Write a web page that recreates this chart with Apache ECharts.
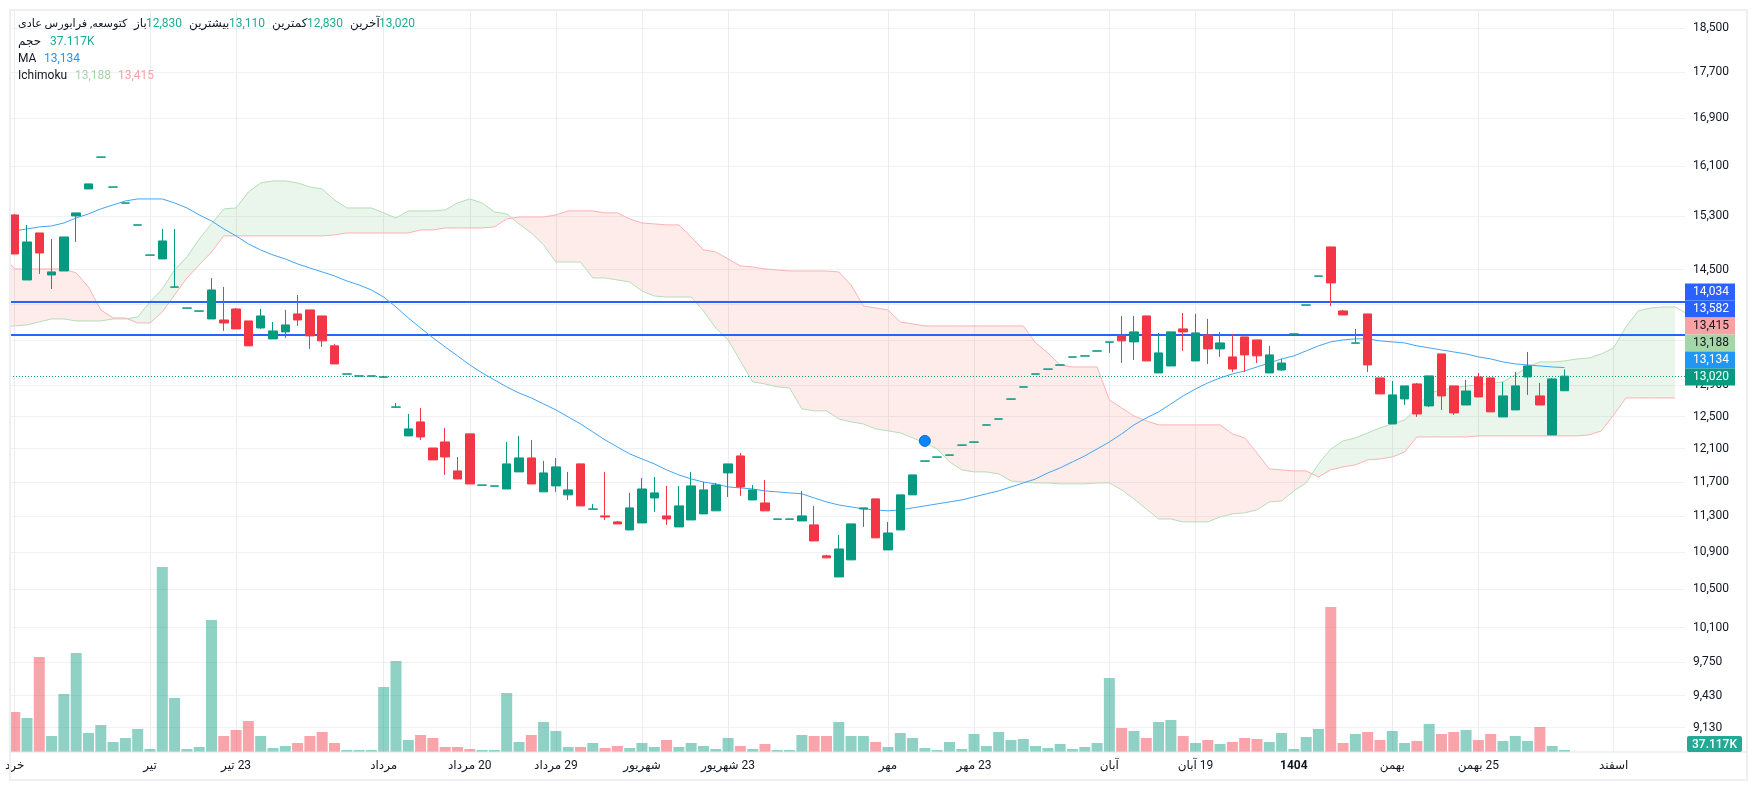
<!DOCTYPE html>
<html>
<head>
<meta charset="utf-8">
<title>chart</title>
<script src="https://cdn.jsdelivr.net/npm/echarts@6/dist/echarts.min.js"></script>
<style>
	html,body{margin:0;padding:0;background:#fff;}
	#container{width:1757px;height:790px;}
</style>
</head>
<body>
<div id="container"></div>
<script>
var opens = [15323,14349,15047,14422,14480,15308,15731,16244,15760,15507,15167,14713,14657,14245,13946,13904,13795,13781,13935,13767,13670,13520,13616,13865,13921,13837,13425,13047,13021,13021,13007,12618,12258,12432,12109,12183,11832,12283,11662,11651,11618,11820,11988,11584,11654,11549,11916,11383,11306,11238,11147,11226,11513,11306,11181,11260,11329,11364,11808,12012,11490,11455,11268,11268,11249,11204,10859,10630,10815,11386,11502,10924,11147,11549,11949,11997,12021,12143,12180,12392,12467,12721,12877,13047,13112,13166,13273,13287,13354,13475,13561,13479,13837,13063,13155,13657,13222,13574,13384,13276,13547,13506,13063,13102,13585,13989,14404,14836,13907,13462,13865,12997,12407,12724,12919,12635,13316,12893,12647,13010,12997,12495,12584,13010,12763,12270,12830];
var closes = [14731,14911,14746,14466,14986,15355,15811,16247,15763,15510,15170,14716,14926,14248,13949,13907,14205,13739,13657,13425,13837,13629,13712,13781,13561,13493,13182,13050,13024,13024,13010,12622,12345,12245,11964,12000,11736,11677,11665,11654,11916,11988,11677,11808,11880,11607,11421,11386,11294,11215,11398,11618,11572,11271,11421,11654,11607,11665,11916,11642,11607,11364,11271,11271,11306,11024,10837,10935,11215,11398,11058,11113,11549,11784,11952,12000,12024,12146,12183,12395,12470,12724,12880,13050,13115,13169,13276,13290,13357,13479,13493,13616,13222,13330,13616,13616,13602,13384,13465,13115,13303,13290,13303,13195,13588,13992,14407,14306,13851,13465,13169,12789,12776,12893,12533,13024,12763,12546,12827,12750,12559,12763,12893,13155,12647,12984,13020];
var lows = [14731,14349,14437,14219,14480,14911,15731,16244,15760,15507,15167,14713,14657,14245,13946,13904,13795,13629,13657,13425,13657,13520,13534,13698,13384,13411,13182,13047,13021,13021,13007,12618,12258,12208,11964,11784,11736,11677,11662,11651,11618,11820,11677,11584,11584,11490,11421,11383,11260,11215,11147,11226,11352,11204,11181,11260,11329,11364,11525,11537,11490,11364,11268,11268,11249,11024,10837,10630,10815,11181,11058,10924,11147,11549,11949,11997,12021,12143,12180,12392,12467,12721,12877,13047,13112,13166,13273,13287,13354,13330,13195,13235,13222,13063,13155,13357,13222,13182,13276,13076,13076,13195,13063,13089,13585,13989,14404,13977,13851,13462,13076,12789,12407,12647,12495,12622,12584,12520,12647,12750,12559,12495,12584,12776,12647,12270,12830];
var highs = [15339,15170,15047,14956,14986,15355,15811,16247,15763,15510,15170,14716,15108,15108,13949,13907,14378,14248,13949,13767,13935,13753,13921,14133,13921,13837,13452,13050,13024,13024,13024,12673,12533,12609,12109,12357,12000,12283,11665,11654,12183,12258,12208,11952,11988,11820,11916,11444,11820,11249,11572,11748,11760,11654,11654,11820,11700,11689,11916,12049,11665,11724,11271,11271,11595,11421,10870,11091,11215,11398,11502,11238,11549,11784,11952,12000,12024,12146,12183,12395,12470,12724,12880,13050,13115,13169,13276,13290,13357,13479,13837,13837,13837,13602,13616,13879,13865,13795,13616,13588,13547,13506,13425,13249,13588,13992,14407,14836,13921,13657,13865,12997,12958,12893,12932,13024,13316,12893,12971,13063,12997,12945,13076,13343,12932,12997,13110];
var volumes = [742,631,1763,297,1076,1837,353,501,186,260,427,56,3434,1002,56,93,2450,297,408,575,297,74,111,167,297,371,167,37,37,37,1206,1689,223,316,260,93,93,56,37,37,1095,186,316,557,390,93,93,167,74,111,74,167,93,223,93,167,111,56,260,111,56,148,37,37,316,297,297,557,297,297,186,93,353,260,74,37,186,56,334,111,371,223,241,111,74,148,56,93,167,1373,445,390,260,557,594,297,167,223,148,186,260,241,186,353,56,278,427,2691,167,334,371,223,390,167,204,520,334,371,408,223,334,204,297,204,464,111,37.117];
var maValues = [15078,15108,15139,15154,15200,15277,15339,15417,15479,15541,15573,15573,15573,15510,15432,15323,15231,15108,15002,14881,14791,14716,14657,14583,14524,14466,14407,14335,14277,14205,14104,13963,13809,13670,13534,13411,13290,13169,13063,12971,12880,12801,12737,12660,12584,12495,12407,12308,12208,12122,12037,11976,11916,11844,11784,11736,11700,11677,11642,11630,11618,11595,11584,11572,11561,11513,11467,11432,11409,11386,11375,11364,11375,11398,11421,11444,11467,11490,11525,11561,11595,11642,11689,11736,11808,11868,11940,12012,12097,12183,12283,12395,12482,12559,12660,12763,12853,12932,12997,13050,13089,13142,13195,13249,13290,13357,13425,13479,13506,13520,13520,13493,13479,13465,13425,13398,13370,13343,13316,13276,13249,13209,13182,13169,13155,13142,13134];
var spanStart = -1;
var spanA = [13684,13698,13712,13753,13795,13795,13767,13767,13767,13795,13795,13823,14034,14219,14495,14686,14956,15185,15417,15432,15683,15827,15859,15859,15827,15763,15731,15557,15432,15432,15432,15355,15277,15386,15386,15386,15401,15510,15573,15510,15370,15339,15185,15047,14866,14612,14612,14612,14378,14378,14349,14320,14190,14118,14104,14104,14104,13907,13670,13506,13222,12945,12919,12880,12866,12597,12572,12572,12470,12432,12407,12345,12320,12295,12233,12171,12097,11940,11844,11820,11820,11796,11712,11700,11689,11689,11677,11677,11677,11689,11689,11607,11502,11386,11271,11271,11238,11238,11238,11294,11329,11341,11375,11467,11478,11595,11689,11916,12097,12196,12233,12295,12357,12407,12457,12609,12801,12840,12866,12893,12906,12932,12945,13037,13142,13209,13209,13222,13249,13262,13316,13398,13684,13907,13949,13963,13963,13865];
var spanB = [14716,14510,14510,14510,14510,14510,14451,14248,13921,13809,13809,13739,13739,13893,14133,14378,14568,14761,15002,15002,15002,15002,15002,15002,15002,15002,15002,15017,15047,15047,15047,15047,15047,15047,15093,15093,15123,15123,15123,15123,15139,15262,15292,15292,15292,15323,15386,15386,15386,15355,15355,15262,15200,15185,15170,15170,14986,14791,14761,14657,14554,14539,14510,14495,14480,14480,14480,14480,14466,14277,13977,13949,13921,13753,13726,13698,13698,13698,13698,13698,13698,13698,13698,13698,13465,13330,13169,13142,13142,13142,12711,12609,12507,12445,12395,12395,12395,12395,12395,12395,12283,12233,12049,11856,11844,11832,11832,11760,11844,11880,11904,11964,11976,12000,12061,12245,12245,12245,12245,12245,12258,12258,12258,12258,12258,12258,12258,12258,12258,12270,12320,12520,12737,12737,12737,12737,12737];
var levelValues = [14034,13582];
var lastPrice = 13020;
var markerIndex = [74];
var markerPrice = [12196];
var gridTicks = [18500,17700,16900,16100,15300,14500,14000,13500,12900,12500,12100,11700,11300,10900,10500,10100,9750,9430,9130];
var labelTicks = [18500,17700,16900,16100,15300,14500,12900,12500,12100,11700,11300,10900,10500,10100,9750,9430,9130];
var xTickIndex = [0,11,18,30,37,44,51,58,71,78,89,96,104,112,119,130];
var xTickNames = ['خرد','تیر','23 تیر','مرداد','20 مرداد','29 مرداد','شهریور','23 شهریور','مهر','23 مهر','آبان','19 آبان','1404','بهمن','25 بهمن','اسفند'];
var priceTags = [
	['14,034','#2962ff','#fff'],
	['13,582','#2962ff','#fff'],
	['13,415','#faa1a4','#131722'],
	['13,188','#a5d6a7','#131722'],
	['13,134','#2196f3','#fff'],
	['13,020','#089981','#fff']
];

var UP = '#089981', DOWN = '#f23645', TEAL = '#22ab94', INK = '#131722';
var FONT = 'Roboto, "Noto Sans", "DejaVu Sans", sans-serif';

function pairs(list, start){
	var out = [];
	for(var i = 0; i < list.length; i++){
		out.push([i + start, list[i]]);
	}
	return out;
}

var candles = [], bars = [];
for(var i = 0; i < opens.length; i++){
	candles.push([i, opens[i], closes[i], lows[i], highs[i]]);
	bars.push({
		value: [i, volumes[i]],
		itemStyle: {color: closes[i] >= opens[i] ? 'rgba(8,153,129,0.45)' : 'rgba(242,54,69,0.45)'}
	});
}

// cloud between the two spans, one polygon per run of the same sign
function renderCloud(params, api){
	var children = [];
	var top = [], bottom = [], prevUp = null, prevA, prevB;
	function flush(up){
		children.push({
			type: 'polygon',
			shape: {points: top.concat(bottom.slice().reverse())},
			style: {fill: up ? 'rgba(67,160,71,0.11)' : 'rgba(244,67,54,0.1)', stroke: 'none'}
		});
	}
	for(var k = 0; k < spanA.length; k++){
		var x = k + spanStart;
		var a = api.coord([x, spanA[k]]);
		var b = api.coord([x, spanB[k]]);
		var up = spanA[k] >= spanB[k];
		if(prevUp !== null && up !== prevUp){
			var d0 = prevA[1] - prevB[1], d1 = a[1] - b[1];
			var t = d0 / (d0 - d1);
			var cross = [prevA[0] + (a[0] - prevA[0]) * t, prevA[1] + (a[1] - prevA[1]) * t];
			top.push(cross);
			bottom.push(cross);
			flush(prevUp);
			top = [cross];
			bottom = [cross];
		}
		top.push(a);
		bottom.push(b);
		prevUp = up;
		prevA = a;
		prevB = b;
	}
	flush(prevUp);
	return {type: 'group', children: children};
}

function text(x, y, str, fill, font){
	return {
		type: 'text', x: x, y: y, z: 100,
		style: {text: str, fill: fill, font: font || ('12px ' + FONT), verticalAlign: 'middle'}
	};
}

var graphics = [
	{type: 'rect', shape: {x: 10, y: 10, width: 1737, height: 770}, style: {fill: 'none', stroke: '#eeeff4', lineWidth: 2}, z: 90},
	{type: 'line', shape: {x1: 10, y1: 752, x2: 1747, y2: 752}, style: {stroke: '#e0e3eb', lineWidth: 1}, z: 90},
	text(18, 24, 'کتوسعه, فرابورس عادی', INK, '11.2px ' + FONT),
	text(134, 24, 'باز', INK),
	text(146, 24, '12,830', TEAL),
	text(189, 24, 'بیشترین', INK),
	text(229, 24, '13,110', TEAL),
	text(272, 24, 'کمترین', INK),
	text(307, 24, '12,830', TEAL),
	text(350, 24, 'آخرین', INK),
	text(379, 24, '13,020', TEAL),
	text(18, 42, 'حجم', INK),
	text(50, 42, '37.117K', TEAL),
	text(18, 59, 'MA', INK),
	text(44, 59, '13,134', '#2196f3'),
	text(18, 76, 'Ichimoku', INK),
	text(75, 76, '13,188', '#a5d6a7'),
	text(118, 76, '13,415', '#faa1a4')
];
for(var n = 0; n < priceTags.length; n++){
	graphics.push({type: 'rect', z: 95, shape: {x: 1685, y: 283.5 + n * 17, width: 50, height: 17}, style: {fill: priceTags[n][1]}});
	graphics.push(text(1693, 292 + n * 17, priceTags[n][0], priceTags[n][2]));
}
graphics.push({type: 'rect', z: 95, shape: {x: 1687, y: 736, width: 55, height: 16, r: 2}, style: {fill: TEAL}});
graphics.push(text(1692, 744.5, '37.117K', '#fff', '500 12px ' + FONT));

var chart = echarts.init(document.getElementById('container'), null, {renderer: 'canvas'});
chart.setOption({
	animation: false,
	backgroundColor: '#fff',
	textStyle: {fontFamily: FONT},
	grid: {left: 10, top: 11, width: 1675, height: 741, containLabel: false},
	xAxis: {
		type: 'value',
		min: -0.382,
		max: 135.8,
		axisLine: {show: false},
		axisTick: {show: false, customValues: xTickIndex},
		splitLine: {show: true, lineStyle: {color: '#ececf0', width: 1}},
		axisLabel: {
			customValues: xTickIndex,
			margin: 8,
			color: INK,
			fontSize: 12,
			fontFamily: FONT,
			formatter: function(v){
				var name = xTickNames[xTickIndex.indexOf(v)];
				return name === '1404' ? '{b|1404}' : '\u200F' + name;
			},
			rich: {b: {fontWeight: 'bold', fontSize: 12, color: INK, fontFamily: FONT}}
		}
	},
	yAxis: [{
		type: 'log',
		position: 'right',
		logBase: 10,
		min: 8907,
		max: 18829,
		axisLine: {show: false},
		axisTick: {show: false, customValues: gridTicks},
		splitLine: {show: true, lineStyle: {color: '#f0f1f5', width: 1}},
		axisLabel: {
			customValues: labelTicks,
			margin: 8,
			color: INK,
			fontSize: 12,
			fontFamily: FONT,
			formatter: function(v){
				return Math.round(v).toLocaleString('en-US');
			}
		}
	},{
		type: 'value',
		show: false,
		min: 0,
		max: 13753
	}],
	series: [{
		name: 'حجم',
		type: 'bar',
		yAxisIndex: 1,
		barWidth: 11,
		data: bars,
		z: 1
	},{
		name: 'cloud',
		type: 'custom',
		yAxisIndex: 0,
		clip: true,
		silent: true,
		encode: {x: 0},
		data: [[0]],
		renderItem: renderCloud,
		z: 2
	},{
		name: 'spanA',
		type: 'line',
		yAxisIndex: 0,
		data: pairs(spanA, spanStart),
		showSymbol: false,
		lineStyle: {color: '#b4deb6', width: 1},
		z: 3
	},{
		name: 'spanB',
		type: 'line',
		yAxisIndex: 0,
		data: pairs(spanB, spanStart),
		showSymbol: false,
		lineStyle: {color: '#fbb2b4', width: 1},
		z: 3
	},{
		name: 'levels',
		type: 'line',
		yAxisIndex: 0,
		data: [],
		silent: true,
		z: 4,
		markLine: {
			silent: true,
			animation: false,
			symbol: 'none',
			label: {show: false},
			data: [
				{yAxis: levelValues[0], lineStyle: {color: '#2962ff', width: 2, type: 'solid'}},
				{yAxis: levelValues[1], lineStyle: {color: '#2962ff', width: 2, type: 'solid'}},
				{yAxis: lastPrice, lineStyle: {color: UP, width: 1.2, type: [1, 2]}}
			]
		}
	},{
		name: 'MA',
		type: 'line',
		yAxisIndex: 0,
		data: pairs(maValues, 0),
		showSymbol: false,
		lineStyle: {color: '#42a5f5', width: 1},
		z: 5
	},{
		name: 'price',
		type: 'candlestick',
		yAxisIndex: 0,
		barWidth: 9,
		data: candles,
		itemStyle: {color: UP, color0: DOWN, borderColor: UP, borderColor0: DOWN, borderWidth: 1},
		z: 6
	},{
		name: 'marker',
		type: 'scatter',
		yAxisIndex: 0,
		data: [[markerIndex[0], markerPrice[0]]],
		symbolSize: 11,
		itemStyle: {color: '#0a84ff', borderColor: '#1769c4', borderWidth: 1, opacity: 1},
		z: 7
	}],
	graphic: graphics
});
</script>
</body>
</html>
